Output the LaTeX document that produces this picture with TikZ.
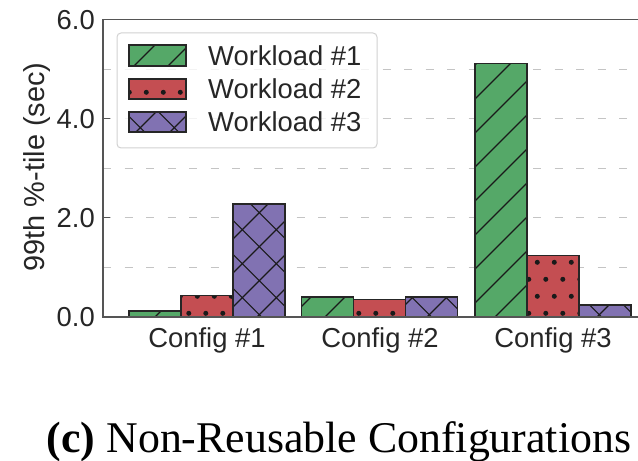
\documentclass[tikz,border=0pt]{standalone}
\usepackage{fontspec}
\setmainfont{Liberation Serif}
\setsansfont{Liberation Sans}

\definecolor{wgreen}{HTML}{55A868}
\definecolor{wred}{HTML}{C44E52}
\definecolor{wpurple}{HTML}{8172B2}
\definecolor{ink}{HTML}{262626}
\definecolor{gridgray}{HTML}{C4C4C4}
\definecolor{spinegray}{HTML}{555555}
\definecolor{edgegray}{HTML}{262626}
\definecolor{hatchink}{HTML}{1A1A1A}
\definecolor{legendgray}{HTML}{D2D2D2}

% hatch fills, laid out on one page-wide lattice and clipped to each patch
\newcommand\hatchdiag{%
  \foreach \k in {-18,...,11}
    \draw[hatchline] ({608+34*\k},0) -- ({608+34*\k-350},350);}
\newcommand\hatchback{%
  \foreach \k in {-9,...,18}
    \draw[hatchline] ({46.6+34*\k},0) -- ({46.6+34*\k+350},350);}
\newcommand\hatchcross{\hatchdiag\hatchback}
\newcommand\hatchdots{%
  \foreach \j in {-14,...,4}
    \foreach \i in {-26,...,6}
      \fill[hatchink] ({537.3+17*\i+8.5*mod(abs(\j),2)},{262.3+17*\j}) circle (2.5bp);}

% filled, hatched and outlined box: left, right, top, bottom, colour, hatch
\newcommand\drawbar[6]{%
  \fill[#5] (#1,#3) rectangle (#2,#4);
  \begin{scope}
    \clip (#1,#3) rectangle (#2,#4);
    #6
  \end{scope}
  \draw[baredge] (#1,#4) rectangle (#2,#3);
}

\begin{document}
\begin{tikzpicture}[x=1bp,y=-1bp,
  txt/.style={text=ink, inner sep=0pt, font=\sffamily\fontsize{27.5}{33}\selectfont},
  gridline/.style={draw=gridgray, line width=1.1bp, dash pattern=on 8bp off 13.5bp},
  spine/.style={draw=spinegray, line width=1.6bp},
  baredge/.style={draw=edgegray, line width=1.3bp},
  hatchline/.style={draw=hatchink, line width=1.2bp}]

\useasboundingbox (0,0) rectangle (638,461);

% value v sits at y = 316.7 - 49.5 v
\def\ybase{316.7}

% horizontal grid
\foreach \v in {1,...,5}
  \draw[gridline] (103,{316.7-49.5*\v}) -- (640,{316.7-49.5*\v});

% Config #1
\drawbar{129}{181}{311}{\ybase}{wgreen}{\hatchdiag}
\drawbar{181}{233}{295.7}{\ybase}{wred}{\hatchdots}
\drawbar{233}{285}{204}{\ybase}{wpurple}{\hatchcross}
% Config #2
\drawbar{301.5}{353.5}{297}{\ybase}{wgreen}{\hatchdiag}
\drawbar{353.5}{405.5}{299.3}{\ybase}{wred}{\hatchdots}
\drawbar{405.5}{457.5}{297}{\ybase}{wpurple}{\hatchcross}
% Config #3
\drawbar{475}{527}{63.3}{\ybase}{wgreen}{\hatchdiag}
\drawbar{527}{579}{255.3}{\ybase}{wred}{\hatchdots}
\drawbar{579}{631}{305}{\ybase}{wpurple}{\hatchcross}

% axes frame and ticks
\draw[spine] (640,19.7) -- (103,19.7) -- (103,316.7) -- (640,316.7);
\foreach \v in {0,2,4,6}
  \draw[spinegray, line width=1.3bp] (103,{316.7-49.5*\v}) -- (110,{316.7-49.5*\v});

% tick labels
\node[txt, anchor=east] (y0) at (95,316.7) {0.0};
\node[txt, anchor=east] (y2) at (95,217.7) {2.0};
\node[txt, anchor=east] (y4) at (95,118.7) {4.0};
\node[txt, anchor=east] (y6) at (95,19.7) {6.0};
\node[txt, anchor=base] (c1) at (207,347) {Config \#1};
\node[txt, anchor=base] (c2) at (380,347) {Config \#2};
\node[txt, anchor=base] (c3) at (553,347) {Config \#3};
\node[txt, font=\sffamily\fontsize{29}{35}\selectfont, rotate=90, anchor=base]
  (ylab) at (44,167) {99th \%-tile (sec)};

% legend
\draw[draw=legendgray, fill=white, fill opacity=0.8, rounded corners=4bp, line width=1bp]
  (117,33) rectangle (377,148);
\drawbar{129}{186}{45}{66}{wgreen}{\hatchdiag}
\drawbar{129}{186}{79}{99}{wred}{\hatchdots}
\drawbar{129}{186}{112}{132}{wpurple}{\hatchcross}
\node[txt, anchor=west] (w1) at (208,55.5) {Workload \#1};
\node[txt, anchor=west] (w2) at (208,89) {Workload \#2};
\node[txt, anchor=west] (w3) at (208,122) {Workload \#3};

% caption
\node[inner sep=0pt, anchor=base, text=black, font=\fontsize{44}{50}\selectfont]
  (cap) at (339,452) {\textbf{(c)} Non-Reusable Configurations};
\end{tikzpicture}
\end{document}
